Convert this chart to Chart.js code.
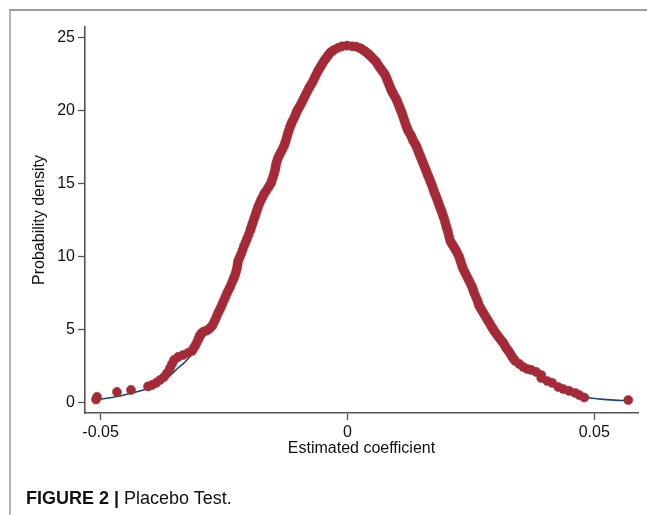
<!DOCTYPE html>
<html>
<head>
<meta charset="utf-8">
<script src="https://cdn.jsdelivr.net/npm/chart.js@4/dist/chart.umd.min.js"></script>
<style>
  html, body { margin: 0; padding: 0; background: #ffffff; }
  body { width: 647px; height: 515px; position: relative; overflow: hidden; font-family: "Liberation Sans", Arial, sans-serif; }
  #frame { position: absolute; left: 9px; top: 9px; width: 640px; height: 510px;
           border-top: 2px solid #9a9a9a; border-left: 2px solid #b5b5b5; }
  #wrap { position: absolute; left: 0; top: 0; width: 647px; height: 515px; }
  #caption { position: absolute; left: 26px; top: 489px; font-size: 18px; line-height: 18px; color: #111; white-space: nowrap; }
  #caption b { font-weight: bold; }
</style>
</head>
<body>
<div id="frame"></div>
<div id="wrap"><canvas id="c" width="647" height="515"></canvas></div>
<div id="caption"><b>FIGURE 2 |</b> Placebo Test.</div>
<script>
// Placebo estimates (red markers): estimated coefficient and its density
const placeboCoef = [
  -0.05093, -0.05073, -0.04668, -0.04384, -0.04039, -0.03958, -0.03877, -0.03796, -0.03715, -0.03654,
  -0.03594, -0.03553, -0.03512, -0.03431, -0.03330, -0.03229,
  -0.03148, -0.03118, -0.03087, -0.03056, -0.03026, -0.03005, -0.02985, -0.02955, -0.02925, -0.02874,
  -0.02823, -0.02783, -0.02742, -0.02711, -0.02681, -0.02651, -0.02621, -0.02590, -0.02560, -0.02530,
  -0.02499, -0.02468, -0.02438, -0.02408, -0.02377, -0.02347, -0.02317, -0.02296, -0.02276, -0.02256,
  -0.02236, -0.02225, -0.02215, -0.02185, -0.02154, -0.02124, -0.02094, -0.02063, -0.02033, -0.02003,
  -0.01972, -0.01952, -0.01932, -0.01911, -0.01891, -0.01870, -0.01850, -0.01830, -0.01810, -0.01780,
  -0.01749, -0.01718, -0.01688, -0.01648, -0.01607, -0.01576, -0.01546, -0.01526, -0.01506, -0.01485,
  -0.01465, -0.01455, -0.01445, -0.01425, -0.01405, -0.01374, -0.01344, -0.01313, -0.01283, -0.01262,
  -0.01242, -0.01222, -0.01202, -0.01181, -0.01161, -0.01141, -0.01121, -0.01090, -0.01060, -0.01040,
  -0.01019, -0.00989, -0.00959, -0.00928, -0.00898, -0.00867, -0.00837, -0.00806, -0.00776, -0.00745,
  -0.00715, -0.00685, -0.00655, -0.00624, -0.00594, -0.00563, -0.00533, -0.00502, -0.00472, -0.00441,
  -0.00411, -0.00381, -0.00351, -0.00310, -0.00270, -0.00188, -0.00107, -0.00006, 0.00095, 0.00176,
  0.00257, 0.00297, 0.00338, 0.00379, 0.00420, 0.00460, 0.00501, 0.00541, 0.00582, 0.00612,
  0.00643, 0.00673, 0.00703, 0.00733, 0.00764, 0.00784, 0.00805, 0.00825, 0.00845, 0.00865,
  0.00886, 0.00906, 0.00926, 0.00956, 0.00987, 0.01007, 0.01028, 0.01048, 0.01068, 0.01088,
  0.01109, 0.01129, 0.01149, 0.01169, 0.01190, 0.01210, 0.01230, 0.01260, 0.01291, 0.01311,
  0.01332, 0.01362, 0.01392, 0.01412, 0.01433, 0.01453, 0.01473, 0.01493, 0.01514, 0.01534,
  0.01555, 0.01575, 0.01595, 0.01615, 0.01636, 0.01656, 0.01676, 0.01696, 0.01717, 0.01737,
  0.01757, 0.01777, 0.01798, 0.01818, 0.01838, 0.01858, 0.01879, 0.01899, 0.01919, 0.01940,
  0.01960, 0.01980, 0.02000, 0.02020, 0.02041, 0.02061, 0.02082, 0.02112, 0.02142, 0.02172,
  0.02203, 0.02233, 0.02264, 0.02284, 0.02304, 0.02324, 0.02345, 0.02375, 0.02406, 0.02436,
  0.02467, 0.02497, 0.02527, 0.02547, 0.02568, 0.02598, 0.02629, 0.02649, 0.02669, 0.02700,
  0.02730, 0.02760, 0.02791, 0.02821, 0.02852, 0.02882, 0.02912, 0.02942, 0.02973, 0.03003,
  0.03034, 0.03064, 0.03095, 0.03125, 0.03156, 0.03186, 0.03216, 0.03246, 0.03277, 0.03307,
  0.03338, 0.03368, 0.03399, 0.03480, 0.03561, 0.03642, 0.03723, 0.03825, 0.03926, 0.03926,
  0.04048, 0.04149, 0.04270, 0.04372, 0.04493, 0.04615, 0.04696, 0.04797, 0.05689
];
const placeboDensity = [
  0.21, 0.38, 0.72, 0.86, 1.10, 1.20, 1.34, 1.54, 1.75, 2.02,
  2.36, 2.64, 2.91, 3.12, 3.25, 3.39,
  3.53, 3.70, 3.87, 4.07, 4.28, 4.45, 4.62, 4.74, 4.83, 4.90,
  4.97, 5.10, 5.24, 5.44, 5.65, 5.89, 6.13, 6.33, 6.54, 6.78,
  7.02, 7.26, 7.50, 7.70, 7.91, 8.15, 8.39, 8.56, 8.73, 8.97,
  9.21, 9.45, 9.69, 9.93, 10.17, 10.44, 10.72, 10.96, 11.20, 11.47,
  11.75, 11.95, 12.16, 12.36, 12.57, 12.77, 12.98, 13.18, 13.39, 13.63,
  13.87, 14.07, 14.28, 14.48, 14.69, 14.86, 15.03, 15.24, 15.45, 15.68,
  15.92, 16.12, 16.33, 16.54, 16.75, 16.95, 17.16, 17.36, 17.57, 17.77,
  17.98, 18.22, 18.46, 18.66, 18.87, 19.04, 19.21, 19.41, 19.62, 19.79,
  19.97, 20.14, 20.31, 20.51, 20.72, 20.92, 21.13, 21.33, 21.54, 21.71,
  21.88, 22.08, 22.29, 22.50, 22.71, 22.88, 23.05, 23.22, 23.39, 23.52,
  23.66, 23.80, 23.94, 24.04, 24.14, 24.28, 24.38, 24.42, 24.38, 24.35,
  24.25, 24.17, 24.08, 23.98, 23.87, 23.74, 23.60, 23.46, 23.32, 23.15,
  22.98, 22.85, 22.71, 22.57, 22.43, 22.26, 22.09, 21.92, 21.75, 21.58,
  21.40, 21.27, 21.13, 20.96, 20.79, 20.62, 20.45, 20.28, 20.10, 19.93,
  19.76, 19.55, 19.35, 19.14, 18.94, 18.77, 18.60, 18.42, 18.25, 18.08,
  17.91, 17.74, 17.57, 17.40, 17.23, 17.05, 16.88, 16.71, 16.54, 16.37,
  16.20, 16.03, 15.86, 15.68, 15.51, 15.34, 15.17, 15.00, 14.83, 14.62,
  14.42, 14.25, 14.08, 13.90, 13.73, 13.52, 13.32, 13.15, 12.98, 12.77,
  12.57, 12.33, 12.09, 11.85, 11.61, 11.33, 11.06, 10.89, 10.72, 10.55,
  10.38, 10.17, 9.97, 9.76, 9.55, 9.34, 9.14, 8.93, 8.73, 8.52,
  8.32, 8.11, 7.91, 7.70, 7.50, 7.26, 7.02, 6.81, 6.61, 6.44,
  6.27, 6.09, 5.92, 5.75, 5.58, 5.41, 5.24, 5.07, 4.90, 4.76,
  4.62, 4.48, 4.35, 4.21, 4.08, 3.90, 3.73, 3.60, 3.46, 3.29,
  3.12, 2.98, 2.84, 2.64, 2.43, 2.29, 2.23, 2.09, 1.88, 1.68,
  1.47, 1.34, 1.06, 0.92, 0.79, 0.65, 0.51, 0.34, 0.17
];
// Kernel density curve (blue line)
const kdensX = [
  -0.05093, -0.04911, -0.04668, -0.04404, -0.04202, -0.04039, -0.03898, -0.03756, -0.03594, -0.03431,
  -0.03290, -0.03148, -0.02985, -0.02823, -0.02661, -0.02499, -0.02337, -0.02175, -0.02013, -0.01850,
  -0.01688, -0.01526, -0.01364, -0.01161, -0.00959, -0.00756, -0.00553, -0.00351, -0.00148, -0.00006,
  0.00156, 0.00359, 0.00561, 0.00764, 0.00926, 0.01068, 0.01271, 0.01473, 0.01676, 0.01879,
  0.02082, 0.02284, 0.02487, 0.02690, 0.02892, 0.03095, 0.03298, 0.03500, 0.03703, 0.03906,
  0.04108, 0.04372, 0.04615, 0.04858, 0.05122, 0.05405, 0.05669
];
const kdensY = [
  0.17, 0.27, 0.41, 0.62, 0.79, 0.96, 1.20, 1.47, 1.85, 2.36,
  2.77, 3.32, 4.08, 4.90, 5.79, 6.82, 8.05, 9.55, 11.27, 12.98,
  14.35, 15.38, 16.82, 18.77, 20.38, 21.68, 22.91, 23.87, 24.32, 24.42,
  24.35, 24.01, 23.39, 22.43, 21.13, 20.10, 18.39, 16.88, 15.17, 13.32,
  11.27, 9.69, 8.18, 6.68, 5.38, 4.35, 3.39, 2.64, 2.16, 1.75,
  1.34, 0.82, 0.55, 0.34, 0.23, 0.16, 0.13
];
const xTickValues = [-0.05, 0, 0.05];
const yTickValues = [0, 5, 10, 15, 20, 25];
const xTitle = "Estimated coefficient";
const yTitle = "Probability density";

const axisColor = "#555555";
const textColor = "#111111";
Chart.defaults.font.family = '"Liberation Sans", Arial, sans-serif';
Chart.defaults.color = textColor;

const n = Math.min(placeboCoef.length, placeboDensity.length);
const m = Math.min(kdensX.length, kdensY.length);

new Chart(document.getElementById("c"), {
  type: "scatter",
  data: {
    datasets: [
      {
        label: "Placebo estimates",
        data: placeboCoef.slice(0, n).map((x, i) => ({ x: x, y: placeboDensity[i] })),
        pointRadius: 4.6,
        pointBackgroundColor: "#a52a38",
        pointBorderColor: "#a52a38",
        pointBorderWidth: 0.5,
        showLine: false,
        order: 0
      },
      {
        label: "Kernel density",
        data: kdensX.slice(0, m).map((x, i) => ({ x: x, y: kdensY[i] })),
        showLine: true,
        borderColor: "#1a476f",
        borderWidth: 1.6,
        pointRadius: 0,
        cubicInterpolationMode: "monotone",
        order: 1
      }
    ]
  },
  options: {
    responsive: false,
    animation: false,
    events: [],
    layout: { padding: { left: 0, top: 27, right: 9, bottom: 52 } },
    plugins: { legend: { display: false }, tooltip: { enabled: false } },
    scales: {
      x: {
        type: "linear",
        min: -0.05316,
        max: 0.05886,
        afterBuildTicks: s => { s.ticks = xTickValues.map(v => ({ value: v })); },
        afterFit: s => { s.height = 50; },
        ticks: {
          autoSkip: false,
          maxRotation: 0,
          padding: 3,
          font: { size: 16 },
          color: textColor,
          callback: v => String(v)
        },
        grid: { display: true, drawOnChartArea: false, drawTicks: true, tickLength: 7, tickColor: axisColor, tickWidth: 1.3 },
        border: { display: true, color: axisColor, width: 1.6 },
        title: { display: true, text: xTitle, font: { size: 16 }, color: textColor, padding: { top: 0, bottom: 5 } }
      },
      y: {
        type: "linear",
        min: -0.72,
        max: 25.7,
        afterBuildTicks: s => { s.ticks = yTickValues.map(v => ({ value: v })); },
        afterFit: s => { s.width = 85; },
        ticks: {
          autoSkip: false,
          padding: 3,
          font: { size: 16 },
          color: textColor,
          callback: v => String(v)
        },
        grid: { display: true, drawOnChartArea: false, drawTicks: true, tickLength: 7, tickColor: axisColor, tickWidth: 1.3 },
        border: { display: true, color: axisColor, width: 1.6 },
        title: { display: true, text: yTitle, font: { size: 16 }, color: textColor, padding: { top: 30, bottom: 0 } }
      }
    }
  }
});
</script>
</body>
</html>
